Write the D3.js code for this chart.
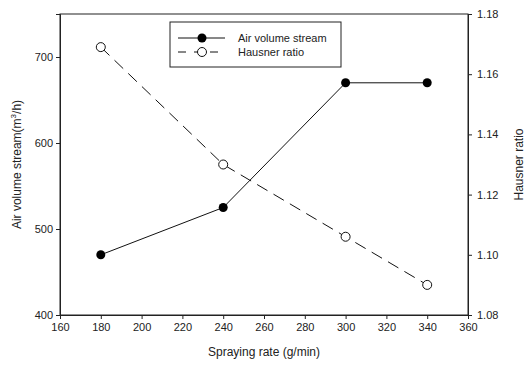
<!DOCTYPE html>
<html><head><meta charset="utf-8">
<script src="https://cdn.jsdelivr.net/npm/d3@7"></script>
<style>body{margin:0;background:#fff}svg{display:block}text{font-family:"Liberation Sans",Arial,sans-serif;fill:#222}</style>
</head><body><svg id="c" width="527" height="366"></svg>
<script>
const sprayRate = [180, 240, 300, 340];
const airVolume = [470, 525, 670, 670];
const hausner = [1.169, 1.130, 1.106, 1.090];
const xTicks = [160, 180, 200, 220, 240, 260, 280, 300, 320, 340, 360];
const yLeftTicks = [400, 500, 600, 700];
const yRightTicks = [1.08, 1.10, 1.12, 1.14, 1.16, 1.18];

const L = 60, R = 468, T = 14, B = 315;
const svg = d3.select("#c");
const x = d3.scaleLinear().domain([160, 360]).range([L, R]);
const yL = d3.scaleLinear().domain([400, 750]).range([B, T]);
const yR = d3.scaleLinear().domain([1.08, 1.18]).range([B, T]);

// frame
svg.append("rect").attr("x", L).attr("y", T).attr("width", R - L).attr("height", B - T)
  .attr("fill", "none").attr("stroke", "#222").attr("stroke-width", 1);

const fmt = d3.format(".2f");
const gx = svg.append("g").attr("transform", `translate(0,${B})`)
  .call(d3.axisBottom(x).tickValues(xTicks).tickSize(4).tickPadding(4).tickFormat(d3.format("d")));
const gl = svg.append("g").attr("transform", `translate(${L},0)`)
  .call(d3.axisLeft(yL).tickValues(yLeftTicks).tickSize(4).tickPadding(3).tickFormat(d3.format("d")));
const gr = svg.append("g").attr("transform", `translate(${R},0)`)
  .call(d3.axisRight(yR).tickValues(yRightTicks).tickSize(4).tickPadding(5).tickFormat(fmt));
[gx, gl, gr].forEach(g => {
  g.select(".domain").attr("stroke", "#222");
  g.selectAll(".tick line").attr("stroke", "#222");
  g.selectAll("text").attr("font-size", 11).style("font-family", '"Liberation Sans",Arial,sans-serif').attr("fill", "#222");
});

// air volume line
svg.append("path").datum(sprayRate.map((d, i) => [d, airVolume[i]]))
  .attr("fill", "none").attr("stroke", "#111").attr("stroke-width", 1)
  .attr("d", d3.line().x(d => x(d[0])).y(d => yL(d[1])));
svg.selectAll(".air").data(sprayRate).enter().append("circle")
  .attr("cx", d => x(d)).attr("cy", (d, i) => yL(airVolume[i])).attr("r", 4.5).attr("fill", "#000");

// hausner line
svg.append("path").datum(sprayRate.map((d, i) => [d, hausner[i]]))
  .attr("fill", "none").attr("stroke", "#111").attr("stroke-width", 1).attr("stroke-dasharray", "12,7")
  .attr("d", d3.line().x(d => x(d[0])).y(d => yR(d[1])));
svg.selectAll(".hr").data(sprayRate).enter().append("circle")
  .attr("cx", d => x(d)).attr("cy", (d, i) => yR(hausner[i])).attr("r", 4.5)
  .attr("fill", "#fff").attr("stroke", "#111").attr("stroke-width", 1);

// legend
const lg = svg.append("g");
lg.append("rect").attr("x", 170).attr("y", 22).attr("width", 171).attr("height", 45)
  .attr("fill", "#fff").attr("stroke", "#222").attr("stroke-width", 1);
lg.append("line").attr("x1", 178).attr("x2", 225).attr("y1", 38).attr("y2", 38).attr("stroke", "#111");
lg.append("circle").attr("cx", 202).attr("cy", 38).attr("r", 4.5).attr("fill", "#000");
lg.append("line").attr("x1", 178).attr("x2", 225).attr("y1", 52).attr("y2", 52).attr("stroke", "#111").attr("stroke-dasharray", "8,8");
lg.append("circle").attr("cx", 202).attr("cy", 52).attr("r", 4.5).attr("fill", "#fff").attr("stroke", "#111");
lg.append("text").attr("x", 238).attr("y", 42).attr("font-size", 11).text("Air volume stream");
lg.append("text").attr("x", 238).attr("y", 56).attr("font-size", 11).text("Hausner ratio");

// axis titles
svg.append("text").attr("x", 264).attr("y", 356).attr("text-anchor", "middle").attr("font-size", 12)
  .text("Spraying rate (g/min)");
const lt = svg.append("text").attr("transform", `translate(21,${(T + B) / 2}) rotate(-90)`)
  .attr("text-anchor", "middle").attr("font-size", 12);
lt.append("tspan").text("Air volume stream(m");
lt.append("tspan").attr("dy", -5).attr("font-size", 8).text("3");
lt.append("tspan").attr("dy", 5).text("/h)");
svg.append("text").attr("transform", `translate(523,${(T + B) / 2}) rotate(-90)`)
  .attr("text-anchor", "middle").attr("font-size", 12).text("Hausner ratio");
</script></body></html>
